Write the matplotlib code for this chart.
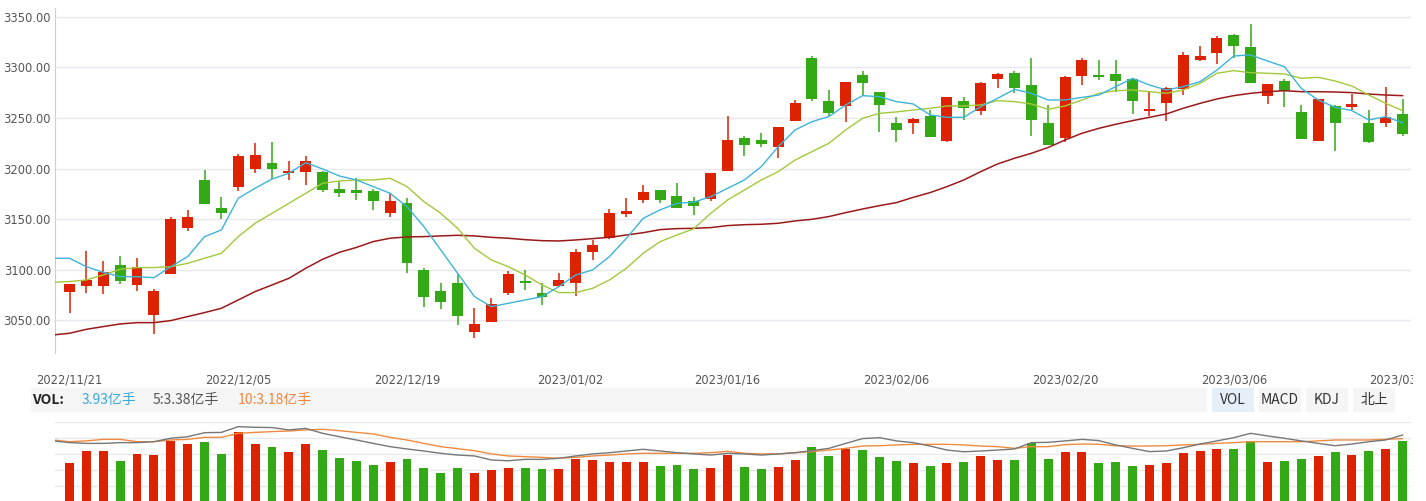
import numpy as np
import matplotlib.pyplot as plt
from matplotlib.patches import Rectangle
from matplotlib.transforms import Bbox, TransformedBbox

W, H = 1426, 501

tick_pos = [0, 10, 20, 29.7, 39, 49, 59, 69, 79]
tick_labels = ['2022/11/21', '2022/12/05', '2022/12/19', '2023/01/02', '2023/01/16',
               '2023/02/06', '2023/02/20', '2023/03/06', '2023/03/20']

opens = [3078.3, 3084.2, 3084.2, 3104.7, 3084.9, 3055.6, 3095.8, 3141.2, 3188.7, 3161.0,
         3182.1, 3199.5, 3205.5, 3195.6, 3196.6, 3196.6, 3179.8, 3178.8, 3177.8, 3156.4,
         3165.9, 3099.7, 3079.0, 3086.9, 3038.8, 3048.7, 3077.3, 3088.9, 3077.0, 3083.9,
         3086.9, 3117.5, 3131.4, 3155.1, 3168.9, 3178.8, 3172.9, 3167.9, 3169.9, 3197.6,
         3230.2, 3228.2, 3221.3, 3247.0, 3309.2, 3266.7, 3261.8, 3292.4, 3275.6, 3245.0,
         3245.0, 3251.9, 3227.2, 3266.7, 3256.8, 3288.4, 3294.4, 3282.5, 3245.0, 3230.5,
         3291.4, 3292.4, 3293.4, 3288.4, 3256.8, 3264.7, 3278.6, 3307.2, 3314.1, 3331.9,
         3320.1, 3271.7, 3286.5, 3255.8, 3227.2, 3261.8, 3260.8, 3245.0, 3245.0, 3253.9]
closes = [3085.9, 3089.9, 3098.1, 3088.9, 3102.4, 3079.0, 3150.1, 3152.1, 3165.3, 3156.4,
          3212.4, 3213.4, 3199.5, 3197.6, 3207.4, 3178.8, 3175.8, 3176.1, 3167.9, 3167.9,
          3107.0, 3073.4, 3068.4, 3054.6, 3046.7, 3066.1, 3095.8, 3086.9, 3073.4, 3089.9,
          3117.5, 3124.4, 3156.1, 3158.0, 3176.8, 3168.9, 3161.0, 3163.0, 3195.6, 3228.2,
          3223.2, 3224.2, 3241.0, 3264.7, 3268.7, 3254.9, 3285.5, 3284.5, 3262.8, 3238.1,
          3248.9, 3231.1, 3270.7, 3259.8, 3284.5, 3293.4, 3279.6, 3247.9, 3223.2, 3290.4,
          3307.2, 3290.4, 3286.5, 3266.7, 3258.8, 3279.6, 3312.2, 3311.2, 3329.0, 3321.1,
          3284.5, 3283.5, 3276.6, 3229.2, 3268.7, 3245.0, 3263.8, 3226.2, 3250.9, 3234.1]
highs = [3086.0, 3118.5, 3108.6, 3113.6, 3111.9, 3080.7, 3151.8, 3159.0, 3198.5, 3171.9,
         3214.3, 3225.2, 3226.2, 3207.4, 3212.4, 3197.3, 3187.7, 3190.3, 3179.5, 3175.5,
         3170.9, 3101.7, 3086.9, 3095.8, 3062.2, 3072.1, 3098.8, 3099.7, 3086.9, 3096.8,
         3120.5, 3129.4, 3160.0, 3170.9, 3183.7, 3178.8, 3185.7, 3171.9, 3195.6, 3251.9,
         3232.1, 3235.1, 3241.0, 3267.7, 3311.2, 3277.6, 3285.5, 3296.4, 3275.6, 3250.9,
         3249.9, 3257.8, 3270.7, 3270.7, 3285.5, 3294.4, 3296.4, 3309.2, 3262.8, 3291.4,
         3309.2, 3307.2, 3307.2, 3289.4, 3276.6, 3280.6, 3315.1, 3321.1, 3330.9, 3332.9,
         3342.8, 3283.5, 3288.4, 3262.8, 3268.7, 3262.8, 3273.6, 3257.8, 3280.6, 3268.7]
lows = [3057.6, 3077.3, 3076.0, 3085.9, 3079.3, 3036.2, 3095.8, 3138.6, 3165.3, 3150.1,
        3178.1, 3195.6, 3189.4, 3188.4, 3183.7, 3177.1, 3171.9, 3168.9, 3159.0, 3152.4,
        3097.1, 3062.9, 3061.5, 3045.7, 3032.9, 3048.7, 3075.3, 3080.0, 3065.5, 3082.9,
        3074.1, 3109.6, 3130.4, 3152.1, 3165.9, 3165.9, 3161.0, 3154.1, 3167.9, 3197.6,
        3212.4, 3221.3, 3210.4, 3247.0, 3266.7, 3251.9, 3246.0, 3272.6, 3236.1, 3226.2,
        3234.1, 3231.1, 3226.2, 3247.9, 3252.9, 3279.6, 3274.6, 3232.1, 3223.2, 3226.5,
        3282.5, 3287.5, 3275.6, 3253.9, 3251.9, 3247.0, 3272.6, 3306.2, 3303.3, 3309.2,
        3284.5, 3263.8, 3260.8, 3229.2, 3227.2, 3217.3, 3257.8, 3225.2, 3241.0, 3232.1]

# moving average lines, first value is the day before the visible window
ma5 = [3111.3, 3111.3, 3103.0, 3097.5, 3093.1, 3093.1, 3092.1, 3103.0, 3112.9, 3132.6, 3139.3,
       3170.6, 3180.5, 3189.6, 3195.3, 3205.8, 3199.5, 3192.6, 3188.7, 3182.1, 3175.5,
       3162.3, 3142.6, 3119.5, 3096.5, 3073.4, 3063.5, 3066.8, 3070.1, 3073.4, 3083.3,
       3094.8, 3099.8, 3113.0, 3131.0, 3150.8, 3159.1, 3165.6, 3166.8, 3172.2, 3180.4,
       3188.7, 3201.9, 3221.6, 3238.1, 3246.3, 3251.3, 3262.8, 3272.0, 3271.0, 3266.1,
       3263.8, 3252.9, 3250.6, 3250.6, 3261.1, 3269.4, 3278.2, 3274.3, 3267.7, 3267.7,
       3270.3, 3272.6, 3280.9, 3289.1, 3282.5, 3277.6, 3280.9, 3285.8, 3297.3, 3311.2,
       3312.2, 3306.2, 3300.6, 3279.2, 3267.7, 3260.5, 3257.2, 3248.0, 3251.2, 3245.3]
ma10 = [3087.6, 3088.3, 3089.9, 3094.8, 3100.4, 3102.1, 3102.1, 3103.0, 3106.3, 3111.3, 3116.2,
        3132.7, 3145.9, 3155.7, 3165.6, 3175.5, 3185.4, 3187.7, 3188.7, 3188.7, 3190.3,
        3182.1, 3167.3, 3155.7, 3140.9, 3121.2, 3109.6, 3103.0, 3094.8, 3084.9, 3077.4,
        3077.4, 3081.6, 3089.9, 3101.4, 3116.2, 3127.8, 3134.3, 3140.5, 3155.7, 3168.9,
        3178.8, 3188.7, 3196.9, 3208.4, 3216.7, 3224.9, 3238.1, 3249.6, 3254.5, 3255.9,
        3257.8, 3259.5, 3261.8, 3261.8, 3262.8, 3267.1, 3266.1, 3263.8, 3258.5, 3261.8,
        3267.7, 3274.3, 3276.9, 3277.6, 3275.9, 3274.3, 3277.6, 3284.2, 3294.1, 3296.7,
        3294.7, 3294.1, 3293.4, 3289.1, 3290.1, 3286.5, 3281.5, 3272.6, 3264.4, 3257.2]
ma30 = [3035.5, 3037.2, 3041.1, 3043.8, 3046.4, 3047.7, 3047.7, 3049.7, 3053.7, 3057.6, 3061.9,
        3070.1, 3078.4, 3084.9, 3091.5, 3101.4, 3110.3, 3117.2, 3122.0, 3127.8, 3131.1,
        3132.4, 3132.7, 3133.4, 3134.0, 3133.4, 3132.0, 3131.1, 3129.7, 3128.7, 3128.4,
        3129.4, 3130.7, 3132.0, 3134.3, 3136.6, 3139.6, 3140.6, 3140.9, 3141.6, 3143.6,
        3144.5, 3144.9, 3145.9, 3148.2, 3149.8, 3152.5, 3156.4, 3160.0, 3163.3, 3166.3,
        3171.5, 3176.2, 3182.1, 3188.7, 3196.9, 3204.5, 3210.1, 3215.0, 3220.8, 3228.2,
        3234.8, 3239.7, 3243.7, 3247.3, 3250.6, 3253.9, 3259.5, 3264.4, 3268.7, 3272.0,
        3274.3, 3275.9, 3276.9, 3275.9, 3275.9, 3275.6, 3275.0, 3273.6, 3272.6, 3272.0]

# volume in 亿手
volumes = [2.54, 3.31, 3.31, 2.66, 3.12, 3.05, 3.94, 3.76, 3.89, 3.12,
           4.54, 3.76, 3.57, 3.25, 3.76, 3.37, 2.86, 2.66, 2.41, 2.60,
           2.79, 2.21, 1.89, 2.21, 1.89, 2.08, 2.21, 2.21, 2.15, 2.15,
           2.79, 2.73, 2.60, 2.60, 2.60, 2.34, 2.41, 2.15, 2.21, 3.05,
           2.28, 2.15, 2.28, 2.73, 3.57, 2.99, 3.44, 3.37, 2.92, 2.66,
           2.54, 2.34, 2.54, 2.60, 2.99, 2.73, 2.73, 3.83, 2.79, 3.25,
           3.25, 2.54, 2.60, 2.34, 2.41, 2.54, 3.18, 3.31, 3.44, 3.44,
           3.95, 2.60, 2.66, 2.79, 2.99, 3.25, 3.05, 3.31, 3.44, 3.93]
vol_ma5 = [3.94, 3.83, 3.78, 3.78, 3.83, 3.83, 3.89, 4.11, 4.21, 4.47, 4.49,
           4.86, 4.82, 4.80, 4.65, 4.75, 4.43, 4.21, 4.00, 3.78, 3.57,
           3.42, 3.29, 3.14, 3.03, 2.97, 2.71, 2.66, 2.75, 2.75, 2.82,
           2.97, 3.10, 3.18, 3.29, 3.40, 3.29, 3.18, 3.10, 3.03, 3.14,
           3.10, 3.03, 3.10, 3.18, 3.31, 3.46, 3.78, 4.09, 4.15, 3.94,
           3.83, 3.61, 3.35, 3.24, 3.29, 3.35, 3.42, 3.83, 3.85, 3.94,
           4.04, 3.96, 3.68, 3.46, 3.25, 3.29, 3.50, 3.74, 3.94, 4.15,
           4.43, 4.26, 4.11, 3.94, 3.78, 3.63, 3.74, 3.89, 4.00, 4.32]
vol_ma10 = [4.00, 3.89, 3.94, 4.04, 4.04, 3.89, 3.89, 4.00, 4.04, 4.17, 4.17,
            4.43, 4.49, 4.54, 4.58, 4.65, 4.69, 4.60, 4.49, 4.39, 4.17,
            4.00, 3.78, 3.57, 3.44, 3.31, 3.10, 2.97, 2.92, 2.88, 2.82,
            2.88, 2.97, 3.03, 3.10, 3.14, 3.14, 3.14, 3.14, 3.18, 3.27,
            3.14, 3.10, 3.10, 3.18, 3.25, 3.35, 3.46, 3.61, 3.63, 3.68,
            3.72, 3.72, 3.72, 3.68, 3.61, 3.57, 3.46, 3.57, 3.57, 3.70,
            3.74, 3.72, 3.63, 3.61, 3.61, 3.63, 3.68, 3.72, 3.78, 3.83,
            3.89, 3.89, 3.89, 3.89, 3.94, 4.00, 4.00, 4.00, 4.04, 4.09]

RED = '#dd2200'
GREEN = '#33a915'
GRID = '#e7e9ee'
CJK = ['Noto Sans CJK SC', 'DejaVu Sans']


def px_rect(x0, y0, x1, y1):
    # pixel box (top-left origin) -> figure fraction [left, bottom, width, height]
    return [x0 / W, 1 - y1 / H, (x1 - x0) / W, (y1 - y0) / H]


n = len(opens)
x = np.arange(n)
ma_x = np.arange(-1, n)
o = np.array(opens)
c = np.array(closes)
colors = [RED if cc >= oo else GREEN for oo, cc in zip(o, c)]
xlim = (-0.86, 79.5)

fig = plt.figure(figsize=(W / 100, H / 100), dpi=100)

# price panel
ax = fig.add_axes(px_rect(55, 8, 1411, 353))
ax.set_xlim(*xlim)
ax.set_ylim(3017.7, 3358.6)
body_low = np.minimum(o, c)
body_h = np.maximum(np.abs(c - o), 1.4)
ax.vlines(x, lows, highs, colors=colors, linewidth=1.1, zorder=2)
ax.bar(x, body_h, bottom=body_low, width=0.65, color=colors, zorder=3)
ax.plot(ma_x, ma30, color='#9a1a1a', linewidth=1.1, zorder=4)
ax.plot(ma_x, ma10, color='#a2c93a', linewidth=1.0, zorder=4)
ax.plot(ma_x, ma5, color='#3db4da', linewidth=1.0, zorder=4)

ax.set_yticks([3050, 3100, 3150, 3200, 3250, 3300, 3350])
ax.set_yticklabels(['%.2f' % v for v in ax.get_yticks()])
ax.grid(axis='y', color=GRID, linewidth=1.0)
ax.set_axisbelow(True)
for s in ['top', 'right', 'bottom']:
    ax.spines[s].set_visible(False)
ax.spines['left'].set_color('#c9ced8')
ax.tick_params(axis='y', length=0, pad=3, labelsize=8.3, labelcolor='#555555')
ax.set_xticks(tick_pos)
ax.set_xticklabels(tick_labels)
ax.tick_params(axis='x', length=0, pad=15, labelsize=8.3, labelcolor='#555555')
clip = TransformedBbox(Bbox([[0, 0], [1413 / W, 1]]), fig.transFigure)
for lbl in ax.get_xticklabels():
    lbl.set_clip_box(clip)
    lbl.set_clip_on(True)

# indicator header row
fig.add_artist(Rectangle((31 / W, 1 - 412 / H), (1207 - 31) / W, 24 / H,
                         transform=fig.transFigure, color='#f5f5f5', lw=0))
yc = 1 - 400 / H
fig.text(32 / W, yc, 'VOL:', fontsize=10, fontweight='bold', color='#222222',
         va='center', family=CJK)
fig.text(82 / W, yc, '3.93亿手', fontsize=10, color='#3aa9d9', va='center', family=CJK)
fig.text(153 / W, yc, '5:3.38亿手', fontsize=10, color='#555555', va='center', family=CJK)
fig.text(238 / W, yc, '10:3.18亿手', fontsize=10, color='#f0853d', va='center', family=CJK)

buttons = ['VOL', 'MACD', 'KDJ', '北上']
btn_x = [(1212, 1254), (1259, 1301), (1306, 1348), (1353, 1395)]
for name, (bx0, bx1) in zip(buttons, btn_x):
    bg = '#e6eef8' if name == 'VOL' else '#f5f5f5'
    fig.add_artist(Rectangle((bx0 / W, 1 - 412 / H), (bx1 - bx0) / W, 24 / H,
                             transform=fig.transFigure, color=bg, lw=0))
    fig.text((bx0 + bx1) / 2 / W, yc, name, fontsize=10, color='#333333',
             ha='center', va='center', family=CJK)

# volume panel
vol_top = 5.16
axv = fig.add_axes(px_rect(55, 422, 1411, 502))
axv.set_xlim(*xlim)
axv.set_ylim(0, vol_top)
axv.bar(x, volumes, width=0.53, color=colors, zorder=3)
axv.plot(ma_x, vol_ma10, color='#f08a40', linewidth=1.0, zorder=4)
axv.plot(ma_x, vol_ma5, color='#777777', linewidth=1.0, zorder=4)
axv.set_yticks(np.linspace(0, vol_top, 6)[1:])
axv.grid(axis='y', color=GRID, linewidth=1.0)
axv.set_axisbelow(True)
for s in axv.spines.values():
    s.set_visible(False)
axv.tick_params(length=0, labelleft=False, labelbottom=False)

fig.savefig('out.png', dpi=100)
